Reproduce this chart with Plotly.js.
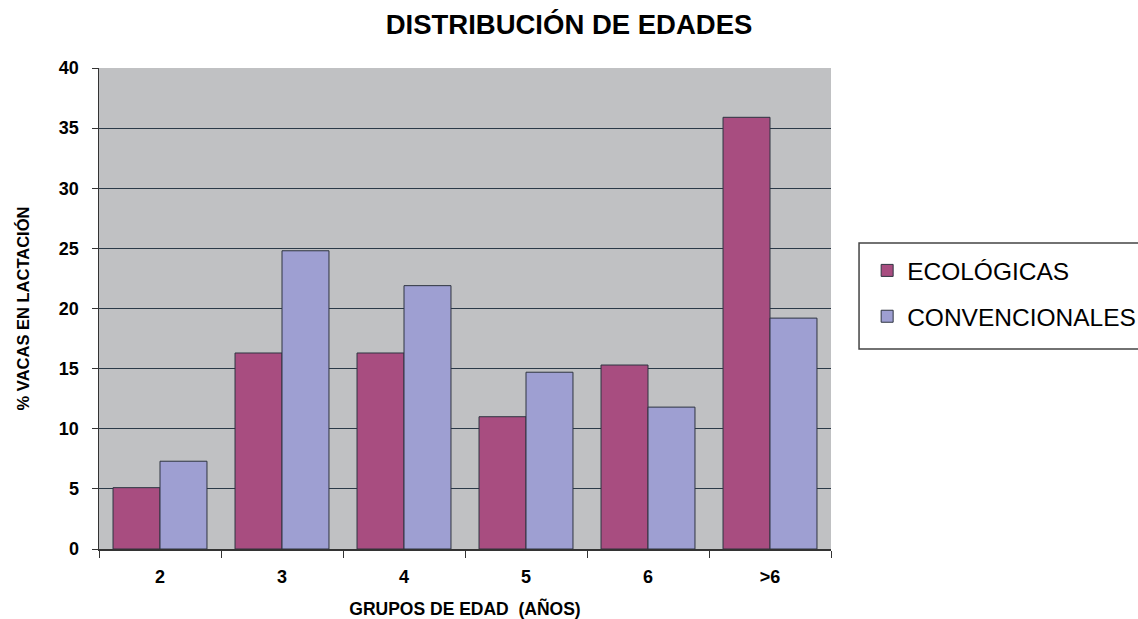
<!DOCTYPE html>
<html>
<head>
<meta charset="utf-8">
<script src="https://cdn.plot.ly/plotly-3.0.1.min.js"></script>
<style>html,body{margin:0;padding:0;background:#fff;}#chart{width:1138px;height:619px;}</style>
</head>
<body>
<div id="chart"></div>
<script>
var categories = ["2", "3", "4", "5", "6", ">6"];
var ecologicas = [5.1, 16.3, 16.3, 11.0, 15.3, 35.9];
var convencionales = [7.3, 24.8, 21.9, 14.7, 11.8, 19.2];
var seriesNames = ["ECOLÓGICAS", "CONVENCIONALES"];
var yTicks = [0, 5, 10, 15, 20, 25, 30, 35, 40];

var font = "Liberation Sans, Arial, sans-serif";

var traces = [
  {type: "bar", name: seriesNames[0], x: categories, y: ecologicas, legendgroup: "a",
   marker: {color: "#a84d80", line: {color: "#2e3440", width: 1}}},
  {type: "bar", name: seriesNames[1], x: categories, y: convencionales, legendgroup: "b",
   marker: {color: "#9e9fd2", line: {color: "#2e3440", width: 1}}}
];

var layout = {
  width: 1138, height: 619,
  margin: {l: 99, r: 307, t: 68, b: 70, autoexpand: false},
  paper_bgcolor: "#ffffff",
  plot_bgcolor: "#c0c1c3",
  barmode: "group",
  bargap: 0.23,
  bargroupgap: 0,
  title: {text: "<b>DISTRIBUCIÓN DE EDADES</b>", x: 0.5, xref: "container", y: 0.96, yref: "container", yanchor: "middle",
          font: {family: font, size: 27.5, color: "#000"}},
  xaxis: {
    type: "category",
    showline: true, linecolor: "#333", linewidth: 1.5,
    ticks: "outside", tickson: "boundaries", ticklen: 7, tickcolor: "#333",
    ticklabelstandoff: 11,
    tickfont: {family: font, size: 18, color: "#000", weight: "bold"},
    showgrid: false,
    title: {text: "<b>GRUPOS DE EDAD  (AÑOS)</b>", font: {family: font, size: 17.5, color: "#000"}, standoff: 27}
  },
  yaxis: {
    range: [0, 40],
    tickvals: yTicks,
    showline: true, linecolor: "#333", linewidth: 1.5,
    ticks: "outside", ticklen: 6, tickcolor: "#333",
    ticklabelstandoff: 9,
    tickfont: {family: font, size: 18, color: "#000", weight: "bold"},
    showgrid: true, gridcolor: "#2b3a48", gridwidth: 1.2,
    zeroline: false,
    title: {text: "<b>% VACAS EN LACTACIÓN</b>", font: {family: font, size: 16.5, color: "#000"}, standoff: 25}
  },
  shapes: [
    {type: "rect", xref: "paper", yref: "paper", x0: 1.0383, x1: 1.46, y0: 0.4158, y1: 0.636,
     line: {color: "#444", width: 1.5}, fillcolor: "rgba(0,0,0,0)", layer: "above"}
  ],
  legend: {
    xref: "container", yref: "container",
    x: 0.762, xanchor: "left", y: 0.5994, yanchor: "top",
    borderwidth: 0, bgcolor: "rgba(0,0,0,0)",
    traceorder: "grouped", tracegroupgap: 11,
    font: {family: font, size: 24.5, color: "#000"}
  },
  showlegend: true
};

Plotly.newPlot("chart", traces, layout, {displayModeBar: false, staticPlot: true});
</script>
</body>
</html>
